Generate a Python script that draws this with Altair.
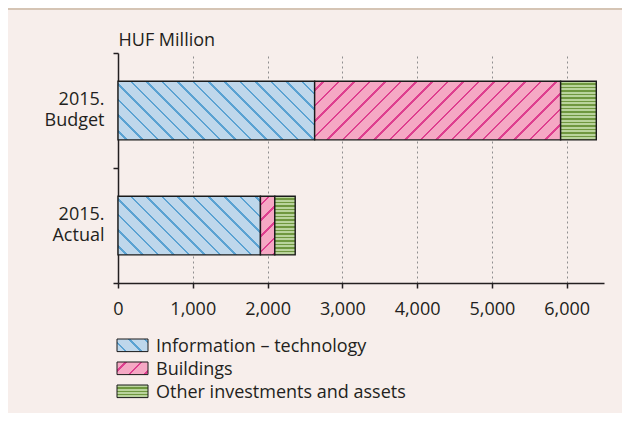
import math
import altair as alt
import pandas as pd

# ---------------- data ----------------
rows = ["2015. Budget", "2015. Actual"]
categories = ["Information – technology", "Buildings", "Other investments and assets"]
it_values = [2630, 1905]
building_values = [3290, 192]
other_values = [477, 273]
x_ticks = [0, 1000, 2000, 3000, 4000, 5000, 6000]
x_domain = [0, 6500]
y_title = "HUF Million"

# ---------------- style ----------------
FONT = "Open Sans"
TEXT = "#231f20"
BG = "#f7eeeb"
BAND = "#d5c4b4"
OUTLINE = "#1a1a1a"
styles = {
    categories[0]: dict(kind="down", bg="#bed7eb", fg="#5aa2d2"),
    categories[1]: dict(kind="up", bg="#f5a8c4", fg="#de3f8f"),
    categories[2]: dict(kind="horiz", bg="#b9d39c", fg="#6f973f"),
}

W, H = 486, 230
PAD = dict(left=110, top=45, right=18, bottom=130)
BAR_FRAC = 0.51
step = H / len(rows)
bandwidth = step * BAR_FRAC

recs = []
for i, r in enumerate(rows):
    start = 0
    for c, vals in zip(categories, [it_values, building_values, other_values]):
        v = vals[i]
        recs.append(dict(row=r, cat=c, value=v, start=start, end=start + v))
        start += v
df = pd.DataFrame(recs)


def stripe_stops(total, period, line, bg, fg, phase=0.0):
    segs = []
    x = phase - period
    while x < total:
        segs.append((x, x + line))
        x += period
    stops = []

    def add(off, col):
        o = min(max(off / total, 0.0), 1.0)
        stops.append({"offset": round(o, 5), "color": col})

    add(0, bg)
    for s, e in segs:
        if e <= 0 or s >= total:
            continue
        add(s, bg)
        add(s, fg)
        add(e, fg)
        add(e, bg)
    add(total, bg)
    return stops


def pattern_fill(kind, w, h, bg, fg, period=11.0, line=1.8, hperiod=3.5, hline=2.2):
    if kind == "horiz":
        return {"gradient": "linear", "stops": stripe_stops(h, hperiod, hline, fg, bg),
                "x1": 0, "y1": 0, "x2": 0, "y2": 1}
    a = (w + h) / (w + h * h / w)
    L = (w + h) / math.sqrt(2)
    stops = stripe_stops(L, period, line, bg, fg, phase=period / 2)
    if kind == "down":
        return {"gradient": "linear", "stops": stops,
                "x1": 0, "y1": 1, "x2": a, "y2": 1 - a * h / w}
    return {"gradient": "linear", "stops": stops,
            "x1": 0, "y1": 0, "x2": a, "y2": a * h / w}


x_enc = alt.X(
    "start:Q",
    scale=alt.Scale(domain=x_domain, nice=False, zero=True),
    axis=alt.Axis(
        values=x_ticks, format=",d", title=None,
        grid=True, gridDash=[2, 3], gridColor="#8f8f8f", gridWidth=1,
        domainColor=TEXT, domainWidth=1.5, tickColor=TEXT, tickWidth=1.5, tickSize=5,
        labelFont=FONT, labelFontSize=18, labelColor=TEXT, labelPadding=26,
        labelBaseline="alphabetic", labelFlush=False, labelOverlap=False,
    ),
)
x2_enc = alt.X2("end:Q")
y_enc = alt.Y(
    "row:N",
    sort=rows,
    scale=alt.Scale(domain=rows, paddingInner=0, paddingOuter=0),
    axis=alt.Axis(
        title=y_title, titleAngle=0, titleAlign="left", titleBaseline="alphabetic",
        titleX=0, titleY=-8, titleFont=FONT, titleFontSize=18, titleFontWeight="normal",
        titleColor=TEXT,
        labelExpr="split(datum.label, ' ')", labelFont=FONT, labelFontSize=18,
        labelColor=TEXT, labelAlign="right", labelBaseline="middle", labelLineHeight=21,
        labelPadding=9, labelOffset=-11, labelOverlap=False,
        tickSize=5, tickColor=TEXT, tickWidth=1.5, tickBand="extent",
        domainColor=TEXT, domainWidth=1.5, grid=False,
    ),
)

layers = []

# top decorative band
layers.append(
    alt.Chart(pd.DataFrame({"k": [0]})).mark_rect(fill=BAND).encode(
        x=alt.value(-PAD["left"]), x2=alt.value(W + PAD["right"]),
        y=alt.value(-PAD["top"]), y2=alt.value(-PAD["top"] + 2),
    )
)

# bar segments
for rec in recs:
    st = styles[rec["cat"]]
    w = rec["value"] * W / (x_domain[1] - x_domain[0])
    grad = pattern_fill(st["kind"], w, bandwidth, st["bg"], st["fg"])
    layers.append(
        alt.Chart(df)
        .transform_filter((alt.datum.row == rec["row"]) & (alt.datum.cat == rec["cat"]))
        .mark_bar(fill=grad, stroke=OUTLINE, strokeWidth=1.4, height={"band": BAR_FRAC})
        .encode(x=x_enc, x2=x2_enc, y=y_enc)
    )

# manual legend
SW_W, SW_H = 31, 12.6
for i, c in enumerate(categories):
    st = styles[c]
    ytop = 286 + 23 * i
    grad = pattern_fill(st["kind"], SW_W, SW_H, st["bg"], st["fg"])
    ldf = pd.DataFrame({"label": [c]})
    layers.append(
        alt.Chart(ldf).mark_rect(fill=grad, stroke=OUTLINE, strokeWidth=1).encode(
            x=alt.value(-1), x2=alt.value(-1 + SW_W),
            y=alt.value(ytop), y2=alt.value(ytop + SW_H),
        )
    )
    layers.append(
        alt.Chart(ldf).mark_text(align="left", baseline="alphabetic", font=FONT,
                                 fontSize=18, color=TEXT).encode(
            x=alt.value(38), y=alt.value(ytop + 13), text="label:N",
        )
    )

chart = (
    alt.layer(*layers)
    .properties(width=W, height=H, padding=PAD,
                autosize=alt.AutoSizeParams(type="none"), background=BG)
    .configure_view(stroke=None)
)

chart.save("out.html", embed_options={"renderer": "svg", "actions": False})
